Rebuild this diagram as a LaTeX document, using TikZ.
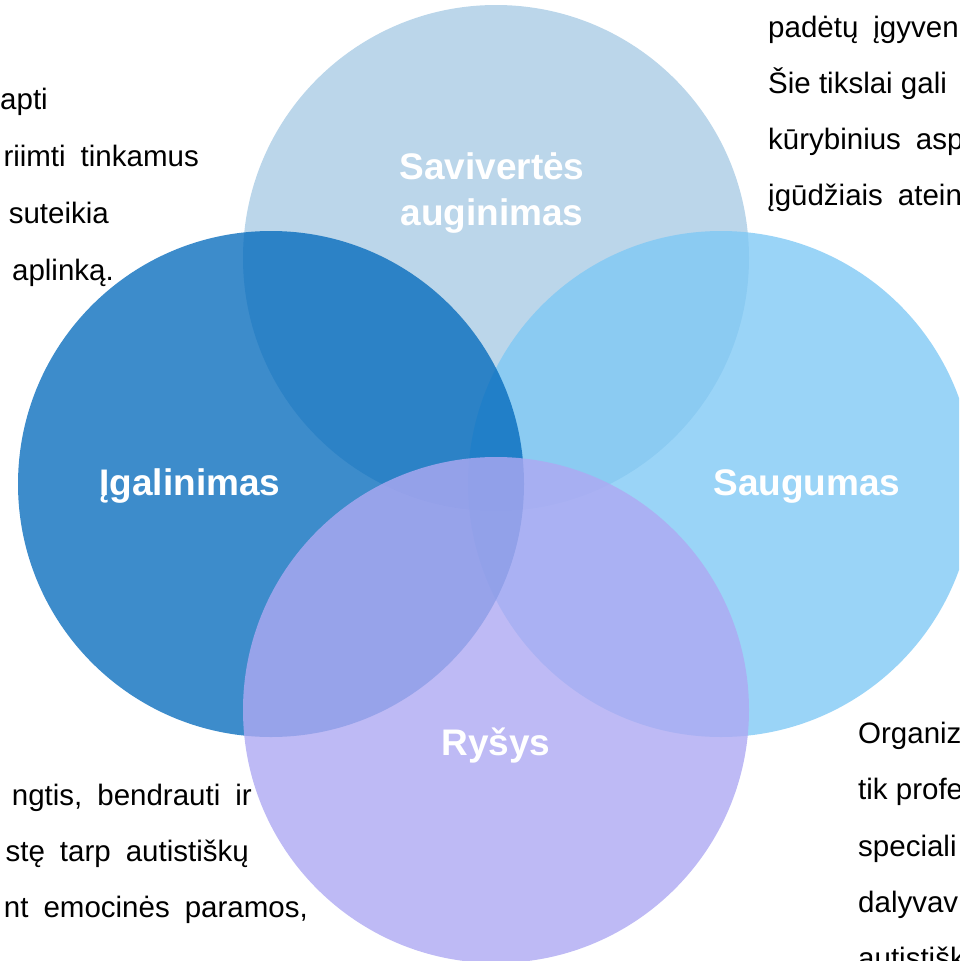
\documentclass[tikz,border=0pt]{standalone}
\usepackage{fontspec}
\setmainfont{Liberation Sans}
\definecolor{topc}{RGB}{187,214,234}
\definecolor{leftc}{RGB}{0,104,187}
\definecolor{rightc}{RGB}{126,200,245}
\definecolor{botc}{RGB}{174,169,242}
\definecolor{bodyc}{RGB}{0,0,0}
\tikzset{
  body/.style={inner sep=0pt, text=bodyc, font=\fontsize{29.5}{35}\selectfont},
  wide/.style={execute at begin node={\spaceskip=15pt plus 0pt minus 0pt\relax}},
  venn/.style={circle, draw=none, minimum size=506pt, inner sep=0pt},
  label/.style={text=white, align=center, inner sep=0pt,
    font=\fontsize{37}{45}\selectfont\bfseries}
}
\begin{document}
\begin{tikzpicture}[x=1pt, y=-1pt]
\useasboundingbox (0,0) rectangle (959,961);
\clip (0,0) rectangle (959,961);
% texts behind circles
\node[body, anchor=base east] (tl1) at (48,109) {kapti};
\node[body, wide, anchor=base east] (tl2) at (199,166) {riimti tinkamus};
\node[body, anchor=base east] (tl3) at (109,223) {suteikia};
\node[body, anchor=base east] (tl4) at (114,280) {aplinką.};
\node[body, wide, anchor=base west] (tr1) at (768,37) {padėtų įgyven};
\node[body, anchor=base west] (tr2) at (768,93) {Šie tikslai gali};
\node[body, wide, anchor=base west] (tr3) at (768,149) {kūrybinius asp};
\node[body, wide, anchor=base west] (tr4) at (768,205) {įgūdžiais atein};
\node[body, wide, anchor=base east] (bl1) at (252,805) {ngtis, bendrauti ir};
\node[body, wide, anchor=base east] (bl2) at (249,861) {stę tarp autistiškų};
\node[body, wide, anchor=base east] (bl3) at (308,917) {nt emocinės paramos,};
\node[body, anchor=base west] (br1) at (858,743) {Organiz};
\node[body, anchor=base west] (br2) at (858,799) {tik profe};
\node[body, anchor=base west] (br3) at (858,856) {speciali};
\node[body, anchor=base west] (br4) at (858,912) {dalyvav};
\node[body, anchor=base west] (br5) at (858,968) {autistišk};
% circles
\node[venn, fill=topc] (ctop) at (496,258) {};
\node[venn, fill=rightc, fill opacity=0.78] (cright) at (721,484) {};
\node[venn, fill=leftc, fill opacity=0.76] (cleft) at (271,484) {};
\node[venn, fill=botc, fill opacity=0.8] (cbot) at (496,710) {};
% labels
\node[label] (ltop) at (492,193) {Savivertės\\[1pt]auginimas};
\node[label] (lleft) at (190,486) {Įgalinimas};
\node[label] (lright) at (807,486) {Saugumas};
\node[label] (lbot) at (496,746) {Ryšys};
\end{tikzpicture}
\end{document}
